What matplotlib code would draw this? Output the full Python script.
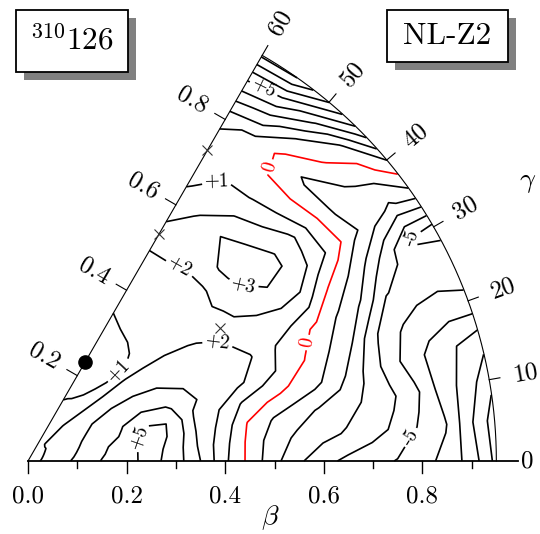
import numpy as np
import matplotlib
matplotlib.use('Agg')
import matplotlib.pyplot as plt
from matplotlib.patches import Rectangle

plt.rcParams['font.family'] = ['cmr10', 'DejaVu Serif']
plt.rcParams['mathtext.fontset'] = 'cm'
plt.rcParams['axes.unicode_minus'] = False

# deformation grid
beta = [0.00, 0.05, 0.10, 0.15, 0.20, 0.25, 0.30, 0.35, 0.40, 0.45,
        0.50, 0.55, 0.60, 0.65, 0.70, 0.75, 0.80, 0.85, 0.90, 0.95]
gamma = [0, 5, 10, 15, 20, 25, 30, 35, 40, 45, 50, 55, 60]

# energy (MeV), one row per gamma
energy = [
    [1.6, 2.41, 3.22, 4.05, 4.7, 5.35, 4.47, 3.0, 1.19, -0.29, -1.7, -2.83, -3.69, -4.25, -4.64, -5.06, -5.62, -6.33, -7.44, -9.3],
    [1.6, 2.35, 3.1, 3.9, 4.6, 5.45, 4.55, 2.83, 1.33, -0.25, -1.5, -2.2, -2.7, -3.1, -3.6, -4.2, -5.15, -5.9, -7.8, -9.5],
    [1.6, 2.3, 3.0, 3.77, 4.5, 5.4, 4.85, 2.84, 1.68, 0.03, -0.93, -1.55, -2.1, -2.6, -3.15, -3.85, -4.8, -6.35, -7.35, -8.7],
    [1.6, 2.25, 2.9, 3.57, 4.1, 5.2, 4.95, 2.9, 2.03, 0.9, 0.3, -0.2, -0.73, -1.55, -2.9, -4.25, -5.45, -6.3, -7.0, -7.6],
    [1.6, 2.2, 2.8, 3.43, 3.95, 4.5, 4.2, 3.15, 2.63, 2.2, 1.57, 0.74, -0.05, -1.0, -2.0, -3.9, -4.9, -5.4, -5.5, -5.2],
    [1.6, 2.15, 2.7, 3.2, 3.55, 3.75, 3.5, 2.97, 2.7, 2.4, 2.02, 1.05, 0.42, -0.25, -1.2, -2.2, -3.95, -4.3, -4.5, -4.5],
    [1.6, 2.1, 2.6, 3.0, 3.2, 3.15, 2.95, 2.6, 2.35, 2.1, 1.85, 1.8, 1.75, 1.45, 0.05, -1.0, -2.3, -3.8, -5.1, -5.3],
    [1.6, 2.05, 2.4, 2.65, 2.75, 2.7, 2.55, 2.3, 2.05, 1.9, 1.95, 2.2, 2.9, 2.95, 1.8, 0.7, -0.7, -1.6, -2.2, -1.3],
    [1.6, 2.05, 2.2, 2.25, 2.15, 2.03, 1.85, 1.75, 1.75, 1.85, 2.05, 2.95, 3.4, 3.05, 2.2, 0.5, -1.1, -1.2, -0.6, 1.02],
    [1.6, 2.02, 2.03, 1.7, 1.1, 0.9, 1.05, 1.3, 1.5, 1.7, 1.98, 3.05, 3.35, 2.55, 1.3, 0.05, -1.2, -0.1, 0.8, 3.7],
    [1.6, 1.75, 1.55, 1.15, 0.85, 0.7, 0.9, 1.25, 1.5, 1.75, 1.97, 2.7, 2.95, 1.98, 0.95, 0.05, -0.3, 0.9, 3.2, 6.03],
    [1.6, 1.45, 1.25, 1.03, 0.7, 0.6, 0.83, 1.15, 1.5, 1.8, 2.03, 2.2, 2.1, 1.5, 0.95, 0.75, 0.85, 2.7, 5.03, 8.03],
    [1.6, 1.39, 1.19, 0.97, 0.65, 0.52, 0.75, 1.02, 1.35, 1.7, 2.05, 2.12, 1.55, 0.9, 0.75, 0.75, 1.2, 3.3, 5.4, 8.2],
]

# markers: minimum and saddle points (beta, gamma)
min_point = (0.231, 60)
saddles_b = [0.532, 0.728, 0.474]
saddles_g = [60, 60, 34.7]

S = 493.0
OX, OY = 28, 461
BMAX = 0.95


def px(x, y):
    return (x - OX) / S, (OY - y) / S


def pol(b, g):
    r = np.radians(g)
    return b * np.cos(r), b * np.sin(r)


fig = plt.figure(figsize=(5.4, 5.34), dpi=100)
ax = fig.add_axes([0, 0, 1, 1])
ax.set_xlim(-OX / S, (540 - OX) / S)
ax.set_ylim(-(534 - OY) / S, OY / S)
ax.axis('off')

B, G = np.meshgrid(np.array(beta), np.radians(gamma))
X = B * np.cos(G)
Y = B * np.sin(G)
Z = np.array(energy)

lev = [l for l in range(-10, 11) if l != 0]
cs = ax.contour(X, Y, Z, levels=lev, colors='black', linewidths=1.2,
                linestyles='solid')
cs0 = ax.contour(X, Y, Z, levels=[0], colors='red', linewidths=1.2)

fmt = {l: ('%+d' % l) if l > 0 else ('-%d' % -l) for l in lev}
lab_px = [(140, 437), (118, 370), (217, 345), (180, 267), (243, 287),
          (217, 180), (262, 92), (408, 235), (415, 440)]
ax.clabel(cs, manual=[px(*p) for p in lab_px], fmt=fmt, fontsize=14,
          inline=True, inline_spacing=3)
ax.clabel(cs0, manual=[px(264, 165), px(310, 343)], fmt={0: '0'},
          fontsize=14, inline=True, inline_spacing=3)

# frame of the sector
t = np.linspace(0, 60, 200)
ax.plot(*pol(BMAX, t), color='black', lw=0.8)
ax.plot([0, 0.994], [0, 0], color='black', lw=1.3)
ax.plot(*zip(pol(0, 60), pol(0.973, 60)), color='black', lw=0.8)

# beta ticks on the x axis
for i in range(10):
    b = i / 10
    ln = 12 / S if i % 2 == 0 else 7 / S
    ax.plot([b, b], [0, -ln], color='black', lw=1.0)
    if i % 2 == 0:
        ax.text(b, -35.7 / S, '%.1f' % b, ha='center', va='center', fontsize=18)

# beta ticks on the 60 degree edge
nx, ny = -np.sin(np.radians(60)), np.cos(np.radians(60))
for b in [0.2, 0.4, 0.6, 0.8]:
    x0, y0 = pol(b, 60)
    ax.plot([x0, x0 + nx * 12 / S], [y0, y0 + ny * 12 / S], color='black', lw=0.8)
    ax.text(x0 + nx * 38 / S, y0 + ny * 38 / S, '%.1f' % b, ha='center', va='center',
            rotation=-30, fontsize=18)

# gamma ticks on the arc
for g in [0, 10, 20, 30, 40, 50, 60]:
    if 0 < g < 60:
        ax.plot(*zip(pol(BMAX, g), pol(0.972, g)), color='black', lw=0.8)
    x0, y0 = pol(1.0, g)
    ax.text(x0, y0, str(g), ha='left', va='center', rotation=g,
            rotation_mode='anchor', fontsize=18)

ax.text(*px(270, 518), r'$\beta$', ha='center', va='center', fontsize=20)
ax.text(*px(528, 182), r'$\gamma$', ha='center', va='center', fontsize=20)

ax.plot(*pol(*min_point), 'o', color='black', ms=9.5)
ax.plot(*pol(np.array(saddles_b), np.array(saddles_g)), 'x', color='#333333',
        ms=7, mew=0.8, ls='none')


def box(x0, y0, x1, y1, text):
    a, b = px(x0, y1)
    c, d = px(x1, y0)
    sh = 8 / S
    ax.add_patch(Rectangle((a + sh, b - sh), c - a, d - b, facecolor='#808080',
                           edgecolor='none', zorder=5))
    ax.add_patch(Rectangle((a, b), c - a, d - b, facecolor='white',
                           edgecolor='black', lw=1.3, zorder=6))
    ax.text((a + c) / 2, (b + d) / 2, text, ha='center', va='center',
            fontsize=22.5, zorder=7)


box(16, 10, 128, 72, r'$^{310}\mathrm{126}$')
box(387, 10, 508, 62, 'NL-Z2')

fig.savefig('out.png', dpi=100)
